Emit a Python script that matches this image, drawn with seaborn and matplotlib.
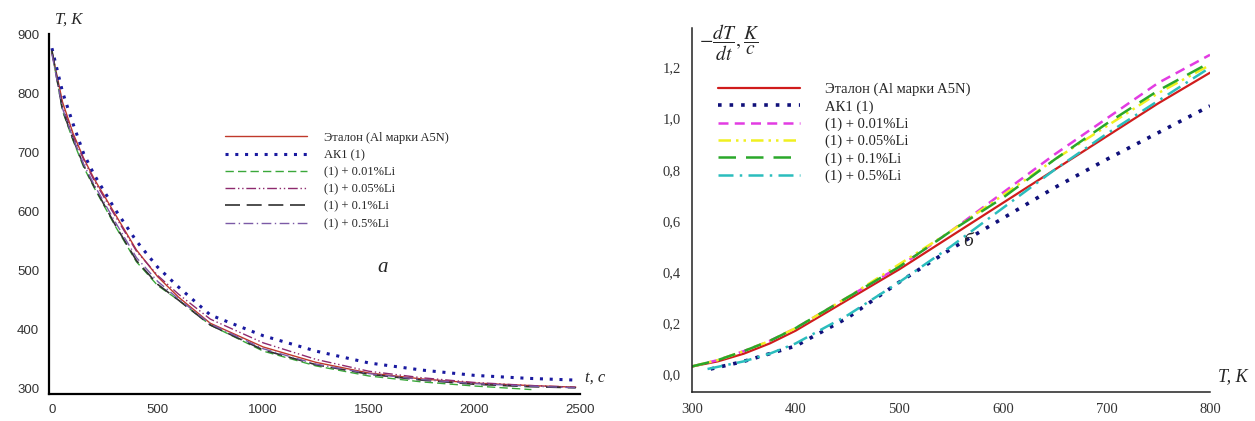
import matplotlib
matplotlib.use("Agg")
import matplotlib.pyplot as plt
import seaborn as sns
from matplotlib.lines import Line2D

sns.set_theme(style="white")
plt.rcParams['font.family'] = ['Liberation Sans', 'DejaVu Sans']
plt.rcParams['mathtext.fontset'] = 'stix'

# ---------- data: panel a (T vs t) ----------
t_main = [0, 50, 100, 150, 200, 300, 400, 500, 600, 750, 1000, 1250, 1500, 1750, 2000, 2250, 2480]
T_etalon = [870, 785, 732, 690, 655, 595, 535, 490, 455, 411, 371, 345, 327, 317, 310, 306, 303]
T_ak1 = [876, 802, 748, 698, 662, 603, 550, 506, 472, 425, 390, 364, 344, 332, 323, 318, 315]
t_001 = [0, 50, 100, 150, 200, 300, 400, 500, 600, 750, 1000, 1250, 1500, 1750, 2000, 2270]
T_001 = [870, 770, 720, 675, 640, 575, 515, 475, 450, 408, 364, 339, 322, 312, 305, 299]
T_005 = [868, 778, 728, 688, 652, 592, 533, 492, 460, 418, 378, 350, 330, 319, 311, 306, 303]
T_01 = [872, 772, 722, 678, 642, 577, 517, 477, 450, 408, 366, 341, 325, 315, 308, 304, 302]
T_05 = [866, 774, 724, 680, 645, 582, 522, 482, 452, 410, 368, 342, 326, 316, 309, 305, 302]

# ---------- data: panel b (-dT/dt vs T) ----------
Tb = [300, 325, 350, 375, 400, 450, 500, 550, 600, 650, 700, 750, 800]
r_etalon = [0.03, 0.05, 0.08, 0.12, 0.17, 0.29, 0.41, 0.54, 0.67, 0.80, 0.93, 1.06, 1.18]
r_001 = [0.03, 0.055, 0.09, 0.13, 0.18, 0.30, 0.42, 0.56, 0.71, 0.86, 1.00, 1.14, 1.25]
r_005 = [0.03, 0.055, 0.09, 0.13, 0.18, 0.30, 0.43, 0.56, 0.70, 0.84, 0.97, 1.10, 1.21]
r_01 = [0.03, 0.055, 0.09, 0.13, 0.18, 0.30, 0.42, 0.56, 0.69, 0.84, 0.98, 1.11, 1.22]
Tb_05 = [315, 350, 375, 400, 450, 500, 550, 600, 650, 700, 750, 800]
r_05 = [0.02, 0.05, 0.08, 0.12, 0.23, 0.36, 0.50, 0.65, 0.80, 0.94, 1.07, 1.20]
Tb_ak1 = [318, 350, 375, 400, 450, 500, 550, 600, 650, 700, 750, 800]
r_ak1 = [0.02, 0.05, 0.08, 0.11, 0.22, 0.36, 0.49, 0.61, 0.73, 0.84, 0.945, 1.05]

labels = ["Эталон (Al марки A5N)", "АК1 (1)", "(1) + 0.01%Li", "(1) + 0.05%Li",
          "(1) + 0.1%Li", "(1) + 0.5%Li"]

W, H = 1255, 421
fig = plt.figure(figsize=(W / 100, H / 100), dpi=100)
ax1 = fig.add_axes([49 / W, (H - 394) / H, (580 - 49) / W, (394 - 34) / H])
ax2 = fig.add_axes([692 / W, (H - 392) / H, (1210 - 692) / W, (392 - 28) / H])

# ---------- panel a ----------
styles_a = [
    (t_main, T_etalon, "#c0392b", "-", 1.0),
    (t_main, T_ak1, "#1a1aa0", (0, (1, 2.2)), 2.2),
    (t_001, T_001, "#3aa83a", (0, (6, 3)), 1.0),
    (t_main, T_005, "#8e2a6e", (0, (7, 2, 1, 2, 1, 2)), 1.0),
    (t_main, T_01, "#303030", (0, (9, 4)), 1.2),
    (t_main, T_05, "#7b5aa6", (0, (7, 2.5, 1, 2.5)), 1.0),
]
for (x, y, c, ls, lw) in styles_a:
    sns.lineplot(x=x, y=y, ax=ax1, color=c, linestyle=ls, linewidth=lw)

ax1.set_xlim(-14, 2500)
ax1.set_ylim(291.5, 900)
ax1.set_xticks([0, 500, 1000, 1500, 2000, 2500])
ax1.set_yticks([300, 400, 500, 600, 700, 800, 900])
for s in ["top", "right"]:
    ax1.spines[s].set_visible(False)
for s in ["left", "bottom"]:
    ax1.spines[s].set_linewidth(1.6)
    ax1.spines[s].set_color("black")
ax1.tick_params(axis="both", direction="out", length=4, width=1.0, colors="black",
                labelsize=9.5, labelcolor="#333333", pad=3)
ax1.set_xlabel("")
ax1.set_ylabel("")

handles_a = [Line2D([], [], color=c, linestyle=ls, linewidth=lw) for (_, _, c, ls, lw) in styles_a]
leg1 = ax1.legend(handles_a, labels, loc="upper left", bbox_to_anchor=(0.31, 0.76),
                  frameon=False, handlelength=6.6, handletextpad=1.3, labelspacing=0.42,
                  prop={"family": "Liberation Serif", "size": 9})

fig.text(55 / W, 1 - 20 / H, "T, K", fontsize=12, fontstyle="italic", family="Liberation Serif",
         ha="left", va="center")
fig.text(585 / W, 1 - 378 / H, "t, с", fontsize=12, fontstyle="italic", family="Liberation Serif",
         ha="left", va="center")
fig.text(383 / W, 1 - 268 / H, "а", fontsize=15, fontstyle="italic", family="Liberation Serif",
         ha="center", va="center")

# ---------- panel b ----------
styles_b = [
    (Tb, r_etalon, "#d01c1c", "-", 1.6),
    (Tb_ak1, r_ak1, "#10107a", (0, (1, 2.2)), 2.6),
    (Tb, r_001, "#e23ce2", (0, (4, 2.5)), 1.8),
    (Tb, r_005, "#f0f020", (0, (5, 2, 1, 2, 1, 2)), 1.8),
    (Tb, r_01, "#2aa82a", (0, (7, 4)), 1.8),
    (Tb_05, r_05, "#2bbdbd", (0, (6, 2.5, 1, 2.5)), 1.8),
]
for (x, y, c, ls, lw) in styles_b:
    sns.lineplot(x=x, y=y, ax=ax2, color=c, linestyle=ls, linewidth=lw)

ax2.set_xlim(300, 800)
ax2.set_ylim(-0.07, 1.355)
ax2.set_xticks([300, 400, 500, 600, 700, 800])
ax2.set_xticklabels(["300", "400", "500", "600", "700", "800"])
yt = [0.0, 0.2, 0.4, 0.6, 0.8, 1.0, 1.2]
ax2.set_yticks(yt)
ax2.set_yticklabels([f"{v:.1f}".replace(".", ",") for v in yt])
for s in ["top", "right"]:
    ax2.spines[s].set_visible(False)
for s in ["left", "bottom"]:
    ax2.spines[s].set_linewidth(1.1)
    ax2.spines[s].set_color("#222222")
ax2.tick_params(axis="both", direction="out", length=4, width=1.0, colors="#222222",
                labelsize=10.5, labelcolor="#333333", pad=4)
for lab in ax2.get_xticklabels() + ax2.get_yticklabels():
    lab.set_family("Liberation Serif")
ax2.set_xlabel("")
ax2.set_ylabel("")

handles_b = [Line2D([], [], color=c, linestyle=ls, linewidth=lw) for (_, _, c, ls, lw) in styles_b]
leg2 = ax2.legend(handles_b, labels, loc="upper left", bbox_to_anchor=(0.025, 0.885),
                  frameon=False, handlelength=5.6, handletextpad=1.7, labelspacing=0.26,
                  prop={"family": "Liberation Serif", "size": 10.5})

fig.text(699 / W, 1 - 43 / H, r"$-\dfrac{dT}{dt},\dfrac{K}{c}$", fontsize=14, ha="left", va="center")
fig.text(1218 / W, 1 - 377 / H, "T, K", fontsize=13, fontstyle="italic", family="Liberation Serif",
         ha="left", va="center")
fig.text(968 / W, 1 - 242 / H, "б", fontsize=14, fontstyle="italic", family="Liberation Serif",
         ha="center", va="center")

fig.savefig("out.png", dpi=100)
